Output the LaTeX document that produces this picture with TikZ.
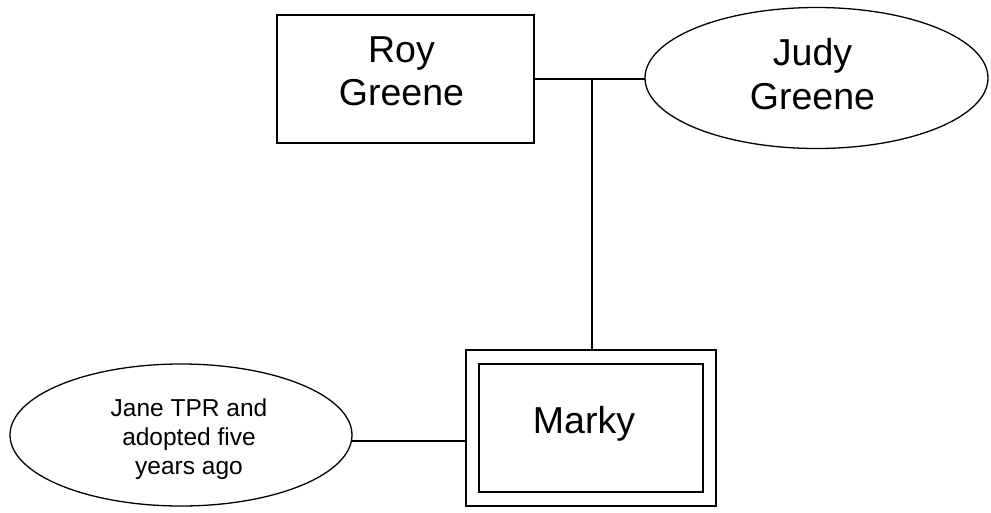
\documentclass[tikz,border=0pt]{standalone}
\usepackage{fontspec}
\setmainfont{Liberation Sans}
\usetikzlibrary{shapes.geometric}
\begin{document}
\begin{tikzpicture}[x=1pt,y=-1pt,
  every node/.style={inner sep=0pt,outer sep=0pt,align=center},
  every label/.style={inner sep=0pt,outer sep=0pt,align=center},
  line/.style={line width=1.3pt,black},
  bigtext/.style={font=\fontsize{37.5}{43.5}\selectfont},
  smalltext/.style={font=\fontsize{24.5}{28.8}\selectfont},
  person/.style={draw,line width=1.3pt,rectangle},
  oval/.style={draw,line width=1.3pt,ellipse}]
\useasboundingbox (0,0) rectangle (991,512);
\node[person,minimum width=257pt,minimum height=128pt,
  label={[bigtext,xshift=-4pt,yshift=7.5pt]center:Roy\\Greene}] (roy) at (405.5,79) {};
\node[oval,minimum width=343pt,minimum height=141pt,
  label={[bigtext,xshift=-4pt,yshift=4pt]center:Judy\\Greene}] (judy) at (816.5,78) {};
\node[person,minimum width=250pt,minimum height=156pt] (markyout) at (591,428) {};
\node[person,minimum width=224pt,minimum height=128pt,
  label={[bigtext,xshift=-7pt,yshift=4.6pt]center:Marky}] (marky) at (591,428) {};
\node[oval,minimum width=342pt,minimum height=142pt,
  label={[smalltext,xshift=8pt,yshift=-4pt]center:Jane TPR and\\adopted five\\years ago}] (jane) at (181,435) {};
\coordinate (j) at (592,79);
\draw[line] (roy.east |- j) -- (j) -- (j -| judy.west);
\draw[line] (j) -- (j |- markyout.north);
\draw[line] (jane.-2) -- (jane.-2 -| markyout.west);
\end{tikzpicture}
\end{document}
